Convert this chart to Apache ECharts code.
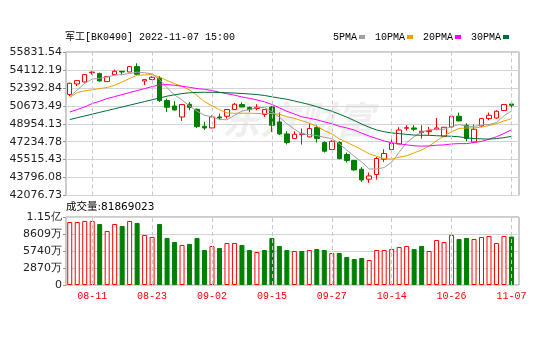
<!DOCTYPE html>
<html>
<head>
<meta charset="utf-8">
<script src="https://cdn.jsdelivr.net/npm/echarts@6/dist/echarts.min.js"></script>
<style>
  html, body { margin: 0; padding: 0; background: #fff; }
  #chart { width: 536px; height: 342px; }
</style>
</head>
<body>
<div id="chart"></div>
<script>
// Trading days shown on the chart
const dates = [
  '08-08','08-09','08-10','08-11','08-12','08-15','08-16','08-17','08-18','08-19',
  '08-22','08-23','08-24','08-25','08-26','08-29','08-30','08-31','09-01','09-02',
  '09-05','09-06','09-07','09-08','09-09','09-13','09-14','09-15','09-16','09-19',
  '09-20','09-21','09-22','09-23','09-26','09-27','09-28','09-29','09-30','10-10',
  '10-11','10-12','10-13','10-14','10-17','10-18','10-19','10-20','10-21','10-24',
  '10-25','10-26','10-27','10-28','10-31','11-01','11-02','11-03','11-04','11-07'
];
// Dates that carry an axis label and a dashed guide line
const markedDates = ['08-11','08-23','09-02','09-15','09-27','10-14','10-26','11-07'];

// Daily candles
const openP = [
  51750, 52766, 52958, 53850, 53762, 52996, 53667, 53980, 53916, 54433,
  53054, 53188, 53341, 51176, 50659, 49605, 50822, 50343, 48714, 48551,
  49605, 49672, 50314, 50793, 50505, 50410, 49835, 50563, 49126, 47977,
  47536, 47920, 47689, 48590, 47153, 46482, 47153, 46003, 45429, 44595,
  43637, 44087, 45553, 46482, 47019, 48520, 48552, 48110, 48200, 48427,
  47757, 48647, 49672, 48810, 47210, 48743, 49452, 49509, 50218, 50850
];
const closeP = [
  52833, 53092, 53667, 53900, 53054, 53475, 53983, 53920, 54433, 53695,
  53188, 53408, 51176, 50534, 50275, 50793, 50505, 48686, 48550, 49605,
  49510, 50314, 50822, 50563, 50314, 50534, 50314, 48810, 47977, 47153,
  47948, 47980, 48494, 47536, 46320, 47277, 45620, 45429, 44528, 43570,
  43953, 45620, 46099, 47085, 48360, 48580, 48427, 48235, 48300, 48552,
  48619, 49672, 49222, 47536, 48427, 49452, 49768, 50151, 50793, 50726
];
const lowP = [
  51600, 52575, 52900, 53667, 53000, 52990, 53650, 53600, 53900, 53690,
  52670, 53150, 51042, 50084, 50218, 49222, 50247, 48551, 48360, 48540,
  49356, 49452, 50290, 50540, 50084, 50247, 49605, 48168, 47880, 46961,
  47520, 46961, 47650, 47153, 46195, 46470, 45525, 45237, 44450, 43378,
  43283, 43609, 45294, 46450, 46990, 48302, 48235, 47536, 47852, 48331,
  47660, 48620, 49200, 47277, 47190, 48619, 49290, 49430, 50200, 50467
];
const highP = [
  52900, 53120, 53700, 53983, 53858, 53500, 54146, 54000, 54490, 54749,
  53200, 53500, 53533, 51368, 51109, 50850, 51042, 50400, 49164, 49768,
  49930, 50350, 50946, 51013, 50630, 50822, 50340, 50659, 50027, 48235,
  48235, 48494, 48973, 48810, 47277, 47373, 47277, 46195, 45500, 44787,
  44279, 45773, 46511, 47468, 48619, 48810, 48810, 48810, 48647, 49509,
  48650, 49835, 50027, 49004, 48877, 49480, 50027, 50247, 50820, 51109
];

// Moving averages
const ma5 = [
  51550, 52190, 52830, 53240, 53309, 53438, 53616, 53666, 53773, 53901,
  53844, 53729, 53180, 52400, 51716, 51237, 50657, 50159, 49762, 49628,
  49371, 49333, 49760, 50163, 50305, 50509, 50509, 50107, 49590, 48958,
  48440, 47974, 47910, 47822, 47656, 47521, 47049, 46436, 45835, 45285,
  44620, 44620, 44754, 45265, 46223, 47149, 47710, 48137, 48380, 48419,
  48427, 48676, 48873, 48720, 48695, 48862, 48881, 49067, 49718, 50178
];
const ma10 = [
  51463, 51950, 52100, 52220, 52330, 52430, 52650, 52950, 53300, 53605,
  53641, 53672, 53423, 53087, 52809, 52541, 52193, 51669, 51081, 50672,
  50304, 49995, 49959, 49962, 49966, 49940, 49921, 49934, 49876, 49631,
  49475, 49242, 49009, 48706, 48307, 47981, 47512, 47173, 46829, 46470,
  46071, 45835, 45595, 45550, 45754, 45884, 46165, 46446, 46823, 47321,
  47788, 48193, 48505, 48550, 48557, 48644, 48778, 48970, 49219, 49437
];
const ma20 = [
  50084, 50314, 50563, 50890, 51109, 51368, 51560, 51751, 51943, 52134,
  52325, 52517, 52670, 52708, 52642, 52546, 52450, 52325, 52258, 52139,
  51972, 51834, 51691, 51524, 51387, 51240, 51057, 50801, 50479, 50152,
  49890, 49618, 49484, 49334, 49136, 48961, 48716, 48554, 48352, 48051,
  47773, 47538, 47302, 47128, 47030, 46933, 46838, 46810, 46826, 46896,
  46929, 47014, 47050, 47050, 47156, 47264, 47472, 47708, 48021, 48379
];
const ma30 = [
  49356, 49528, 49701, 49873, 50046, 50218, 50391, 50563, 50735, 50908,
  51080, 51253, 51425, 51598, 51732, 51847, 51923, 51962, 51971, 51971,
  51952, 51923, 51894, 51856, 51808, 51751, 51665, 51540, 51416, 51303,
  51140, 50970, 50797, 50585, 50361, 50154, 49875, 49592, 49262, 48924,
  48617, 48357, 48188, 48073, 48009, 47935, 47866, 47851, 47843, 47807,
  47778, 47756, 47703, 47602, 47539, 47503, 47485, 47530, 47624, 47743
];

// Volume in units of 10,000 shares (万), and whether the day closed up
const volume = [
  10640, 10640, 10810, 10810, 10300, 9120, 10300, 9970, 10810, 10470,
  8450, 8110, 10300, 7940, 7260, 6760, 6930, 7940, 5910, 6590,
  6250, 7090, 7090, 6760, 5910, 5570, 5910, 7940, 6590, 5910,
  5740, 5740, 5910, 6080, 5910, 5400, 5400, 4730, 4390, 4560,
  4220, 5910, 5910, 6080, 6420, 6590, 6080, 6590, 5740, 7600,
  7260, 8450, 7770, 7940, 7770, 8110, 8280, 7090, 8280, 8187
];
const volumeUp = [
  1, 1, 1, 1, 0, 1, 1, 0, 1, 0,
  1, 1, 0, 0, 0, 1, 0, 0, 0, 1,
  0, 1, 1, 0, 0, 1, 0, 0, 0, 0,
  1, 0, 1, 0, 0, 1, 0, 0, 0, 0,
  1, 1, 1, 1, 1, 1, 0, 0, 1, 1,
  1, 1, 0, 0, 1, 1, 1, 1, 1, 0
];

// Axis tick labels, bottom to top
const priceTicks = ['42076.73','43796.08','45515.43','47234.78','48954.13','50673.49','52392.84','54112.19','55831.54'];
const volumeTicks = ['0','2870万','5740万','8609万','1.15亿'];

const PRICE_MIN = 42076.73, PRICE_MAX = 55831.54;
const VOLUME_MAX = 11479.6;

const UP = '#ff0000', DOWN = '#008000';
const FRAME = '#999999', GRIDLINE = '#d4d4d4';

const candleData = dates.map((d, i) => [openP[i], closeP[i], lowP[i], highP[i]]);
const volumeData = volume.map((v, i) => ({
  value: v,
  itemStyle: volumeUp[i]
    ? { color: '#ffffff', borderColor: UP, borderWidth: 1 }
    : { color: DOWN, borderColor: DOWN, borderWidth: 1 }
}));

const guideLines = {
  silent: true,
  symbol: ['none', 'none'],
  label: { show: false },
  lineStyle: { color: '#c8c8c8', type: [4, 3], width: 1 },
  animation: false,
  data: markedDates.map(d => ({ xAxis: d }))
};

const LEFT = 66, FRAME_W = 453, DATA_W = 449.2;
const P_TOP = 52, P_H = 143.5, V_TOP = 217, V_H = 68;

const labelFont = { color: '#222', fontFamily: 'DejaVu Sans', fontSize: 11, margin: 4 };

const chart = echarts.init(document.getElementById('chart'), null, { renderer: 'canvas' });
chart.setOption({
  animation: false,
  backgroundColor: '#fff',
  title: [
    {
      text: '军工[BK0490] 2022-11-07 15:00',
      left: 65, top: 32, padding: 0,
      textStyle: { fontFamily: 'Liberation Mono, Noto Sans CJK SC', fontSize: 10, fontWeight: 'normal', color: '#000' }
    },
    {
      text: '成交量:' + '81869023',
      left: 66, top: 202, padding: 0,
      textStyle: { fontFamily: 'DejaVu Sans, Noto Sans CJK SC', fontSize: 10.5, fontWeight: 'normal', color: '#000' }
    }
  ],
  legend: {
    data: ['5PMA', '10PMA', '20PMA', '30PMA'],
    right: 27, top: 32, padding: 0,
    align: 'right',
    icon: 'rect',
    itemWidth: 6, itemHeight: 4, itemGap: 10,
    selectedMode: false,
    textStyle: { fontFamily: 'Liberation Mono', fontSize: 10, color: '#000', padding: [0, -3, 0, 0] }
  },
  graphic: [
    {
      type: 'text', left: 222, top: 101, z: 0, silent: true,
      style: {
        text: '东方财富', fontSize: 38, fontWeight: 'bold', fontStyle: 'italic',
        fontFamily: 'Noto Sans CJK SC', fill: '#efefef'
      }
    }
  ],
  grid: [
    { left: LEFT, top: P_TOP, width: FRAME_W, height: P_H, show: true, borderColor: FRAME, borderWidth: 1 },
    { left: LEFT, top: P_TOP, width: DATA_W, height: P_H },
    { left: LEFT, top: V_TOP, width: FRAME_W, height: V_H, show: true, borderColor: FRAME, borderWidth: 1 },
    { left: LEFT, top: V_TOP, width: DATA_W, height: V_H }
  ],
  xAxis: [
    { gridIndex: 0, type: 'value', min: 0, max: 1, show: false },
    {
      gridIndex: 1, type: 'category', data: dates, boundaryGap: true,
      axisLine: { show: false }, axisTick: { show: false }, axisLabel: { show: false }, splitLine: { show: false }
    },
    { gridIndex: 2, type: 'value', min: 0, max: 1, show: false },
    {
      gridIndex: 3, type: 'category', data: dates, boundaryGap: true,
      axisLine: { show: false }, axisTick: { show: false }, splitLine: { show: false },
      axisLabel: {
        interval: (idx, val) => markedDates.includes(val),
        color: UP, fontFamily: 'Liberation Mono', fontSize: 10, margin: 6
      }
    }
  ],
  yAxis: [
    {
      gridIndex: 0, type: 'value', min: 0, max: priceTicks.length - 1, interval: 1,
      axisLine: { show: false },
      axisTick: { show: true, length: 3, lineStyle: { color: FRAME } },
      splitLine: { lineStyle: { color: GRIDLINE } },
      axisLabel: Object.assign({ formatter: v => priceTicks[v] }, labelFont)
    },
    { gridIndex: 1, type: 'value', min: PRICE_MIN, max: PRICE_MAX, show: false, splitLine: { show: false } },
    {
      gridIndex: 2, type: 'value', min: 0, max: volumeTicks.length - 1, interval: 1,
      axisLine: { show: false },
      axisTick: { show: true, length: 3, lineStyle: { color: FRAME } },
      splitLine: { lineStyle: { color: GRIDLINE } },
      axisLabel: Object.assign({ formatter: v => volumeTicks[v] }, labelFont)
    },
    { gridIndex: 3, type: 'value', min: 0, max: VOLUME_MAX, show: false, splitLine: { show: false } }
  ],
  series: [
    {
      name: 'guides-price', type: 'line', xAxisIndex: 1, yAxisIndex: 1, z: 1,
      data: [], markLine: guideLines
    },
    {
      name: 'guides-volume', type: 'line', xAxisIndex: 3, yAxisIndex: 3, z: 1,
      data: [], markLine: guideLines
    },
    {
      name: '军工', type: 'candlestick', xAxisIndex: 1, yAxisIndex: 1, z: 3,
      data: candleData, barWidth: 5,
      itemStyle: { color: '#ffffff', color0: DOWN, borderColor: UP, borderColor0: DOWN, borderWidth: 1 }
    },
    { name: '5PMA', type: 'line', xAxisIndex: 1, yAxisIndex: 1, z: 4, data: ma5, symbol: 'none', color: '#a0a0a0', lineStyle: { width: 1 } },
    { name: '10PMA', type: 'line', xAxisIndex: 1, yAxisIndex: 1, z: 4, data: ma10, symbol: 'none', color: '#f0a000', lineStyle: { width: 1 } },
    { name: '20PMA', type: 'line', xAxisIndex: 1, yAxisIndex: 1, z: 4, data: ma20, symbol: 'none', color: '#ff00ff', lineStyle: { width: 1 } },
    { name: '30PMA', type: 'line', xAxisIndex: 1, yAxisIndex: 1, z: 4, data: ma30, symbol: 'none', color: '#006f33', lineStyle: { width: 1 } },
    {
      name: '成交量', type: 'bar', xAxisIndex: 3, yAxisIndex: 3, z: 3,
      data: volumeData, barWidth: 5
    }
  ]
});
</script>
</body>
</html>
